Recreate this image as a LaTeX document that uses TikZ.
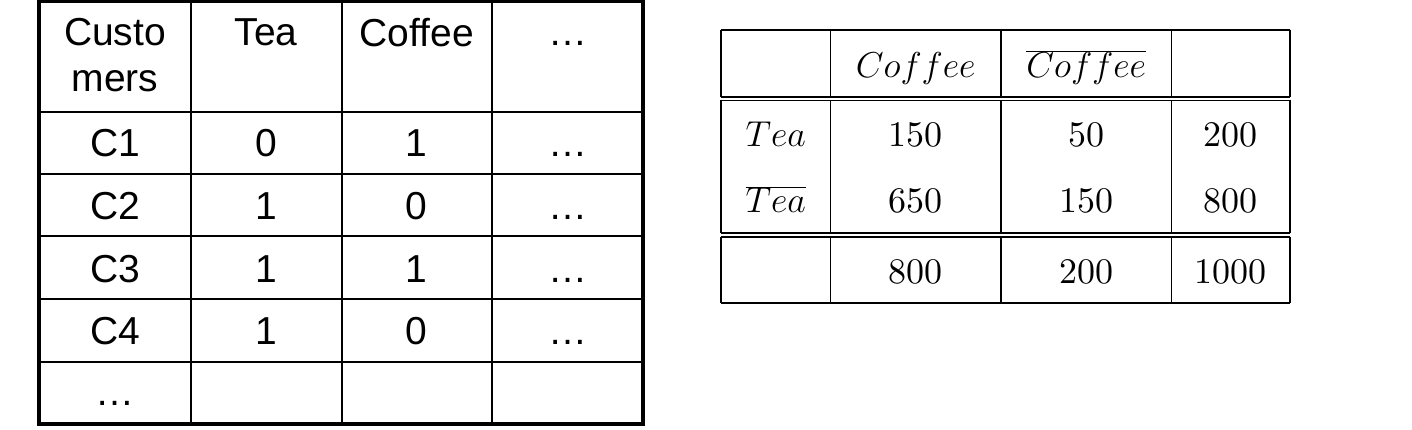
\RequirePackage{fix-cm}
\documentclass[tikz,border=0pt]{standalone}
\usepackage{fontspec}
\newfontfamily\arialfont{Liberation Sans}
\newfontfamily\lmten{lmroman10-regular.otf}
\begin{document}
\begin{tikzpicture}[x=1pt,y=-1pt,
  lcell/.style={font=\arialfont\fontsize{39}{46}\selectfont, inner sep=0pt, anchor=base},
  lhead/.style={font=\arialfont\fontsize{39}{46}\selectfont, inner sep=0pt, anchor=north, align=center},
  rcell/.style={font=\lmten\fontsize{36}{43}\selectfont, inner sep=0pt, anchor=base},
  inner/.style={line width=2pt, draw=black},
  outer/.style={line width=4pt, draw=black},
  rline/.style={line width=1.3pt, draw=black}]
\useasboundingbox (0,0) rectangle (1412,430);
% ---------- left table ----------
\foreach \y in {112,174,236.5,299,361.5} \draw[inner] (39,\y) -- (643,\y);
\foreach \x in {191,341.5,492} \draw[inner] (\x,1.5) -- (\x,424);
\draw[outer] (39,1.5) rectangle (643,424);
% header
\node[lhead] (hc) at (115,18) {Custo\\mers};
\node[lhead] (ht) at (266,18) {Tea};
\node[lhead] (hf) at (416.75,18) {Coffee};
\node[lcell] (hd) at (567.5,46) {…};
% body
\node[lcell] (c1) at (115,157) {C1};
\node[lcell] (c1t) at (266,157) {0};
\node[lcell] (c1f) at (416.75,157) {1};
\node[lcell] (c1d) at (567.5,157) {…};
\node[lcell] (c2) at (115,219.5) {C2};
\node[lcell] (c2t) at (266,219.5) {1};
\node[lcell] (c2f) at (416.75,219.5) {0};
\node[lcell] (c2d) at (567.5,219.5) {…};
\node[lcell] (c3) at (115,282) {C3};
\node[lcell] (c3t) at (266,282) {1};
\node[lcell] (c3f) at (416.75,282) {1};
\node[lcell] (c3d) at (567.5,282) {…};
\node[lcell] (c4) at (115,344.5) {C4};
\node[lcell] (c4t) at (266,344.5) {1};
\node[lcell] (c4f) at (416.75,344.5) {0};
\node[lcell] (c4d) at (567.5,344.5) {…};
\node[lcell] (c5) at (115,405) {…};
% ---------- right table ----------
\foreach \y in {30,97,100.5,233,237,303} \draw[rline] (721,\y) -- (1290,\y);
\foreach \x in {721,830.5,1001,1171.5,1290} {
  \draw[rline] (\x,30) -- (\x,97);
  \draw[rline] (\x,100.5) -- (\x,233);
  \draw[rline] (\x,237) -- (\x,303);
}
\node[rcell] (rc) at (915.75,78) {$Coffee$};
\node[rcell] (rcb) at (1086.25,78) {$\overline{Coffee}$};
\node[rcell] (rt) at (775.75,147) {$Tea$};
\node[rcell] (r11) at (915.75,147) {150};
\node[rcell] (r12) at (1086.25,147) {50};
\node[rcell] (r13) at (1230.75,147) {200};
\node[rcell] (rtb) at (775.75,213) {$\overline{Tea}$};
\node[rcell] (r21) at (915.75,213) {650};
\node[rcell] (r22) at (1086.25,213) {150};
\node[rcell] (r23) at (1230.75,213) {800};
\node[rcell] (r31) at (915.75,283) {800};
\node[rcell] (r32) at (1086.25,283) {200};
\node[rcell] (r33) at (1230.75,283) {1000};
\end{tikzpicture}
\end{document}
